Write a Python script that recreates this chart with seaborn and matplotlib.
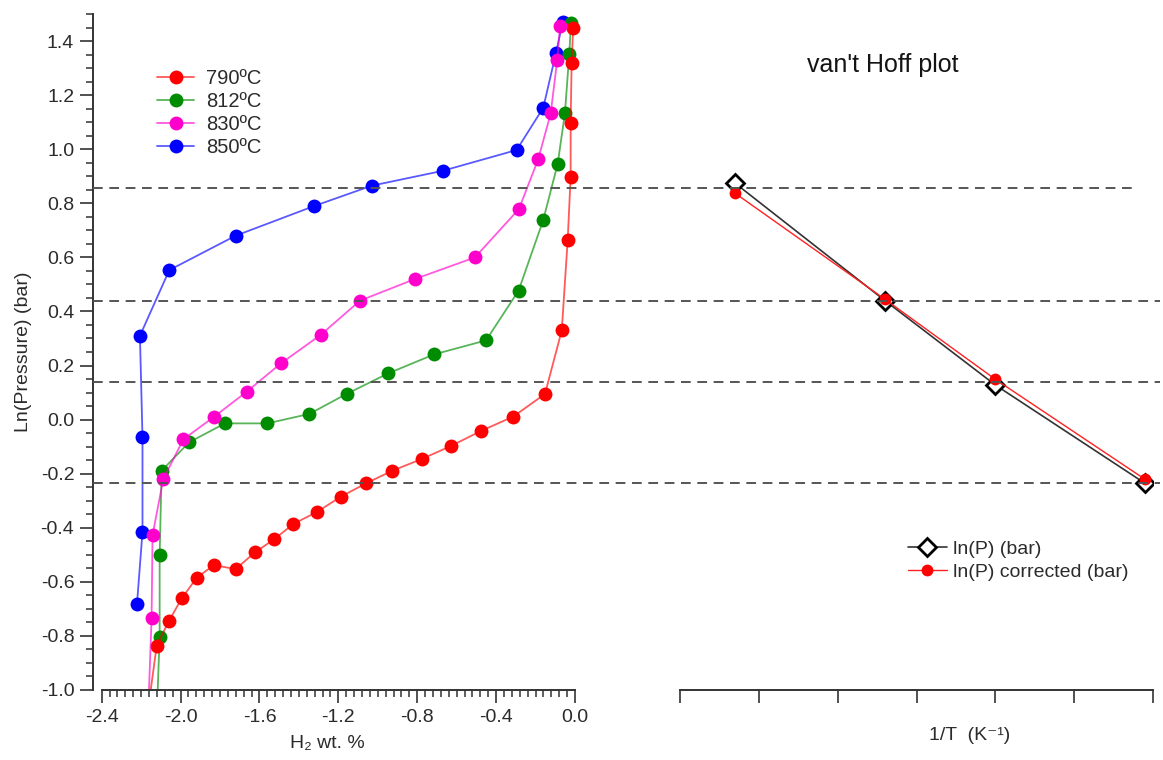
import numpy as np
import pandas as pd
import matplotlib
matplotlib.use("Agg")
import matplotlib.pyplot as plt
import matplotlib.transforms as mtransforms
from matplotlib.lines import Line2D
from matplotlib.ticker import FixedLocator, FuncFormatter, NullFormatter
import seaborn as sns

# ---- PCI isotherms: H2 content (wt. %) vs ln(P / bar) ----
temps = ["790ºC", "812ºC", "830ºC", "850ºC"]
marker_colors = ["#ff0000", "#008c00", "#ff00cc", "#0000ff"]

h2_790 = [-2.17, -2.121, -2.059, -1.994, -1.918, -1.831, -1.721, -1.623, -1.526, -1.428,
          -1.307, -1.187, -1.060, -0.926, -0.778, -0.630, -0.477, -0.313, -0.152, -0.067,
          -0.037, -0.022, -0.022, -0.017, -0.009]
lnp_790 = [-1.10, -0.836, -0.745, -0.661, -0.585, -0.538, -0.553, -0.491, -0.443, -0.386,
           -0.341, -0.285, -0.236, -0.189, -0.146, -0.098, -0.042, 0.011, 0.095, 0.330,
           0.664, 0.898, 1.096, 1.320, 1.449]

h2_812 = [-2.121, -2.106, -2.106, -2.096, -1.957, -1.775, -1.560, -1.347, -1.158, -0.947,
          -0.715, -0.451, -0.286, -0.161, -0.088, -0.051, -0.029, -0.020]
lnp_812 = [-1.10, -0.803, -0.501, -0.189, -0.084, -0.014, -0.014, 0.021, 0.095, 0.171,
           0.241, 0.293, 0.477, 0.738, 0.945, 1.133, 1.352, 1.468]

h2_830 = [-2.165, -2.147, -2.142, -2.088, -1.986, -1.829, -1.665, -1.491, -1.290, -1.090,
          -0.811, -0.507, -0.284, -0.186, -0.123, -0.090, -0.076]
lnp_830 = [-1.10, -0.735, -0.427, -0.221, -0.073, 0.011, 0.103, 0.208, 0.313, 0.440,
           0.520, 0.600, 0.779, 0.964, 1.133, 1.330, 1.455]

h2_850 = [-2.221, -2.193, -2.193, -2.206, -2.057, -1.721, -1.322, -1.031, -0.671, -0.296,
          -0.161, -0.096, -0.062]
lnp_850 = [-0.682, -0.415, -0.066, 0.310, 0.553, 0.680, 0.790, 0.865, 0.920, 0.997,
           1.153, 1.357, 1.471]

# ---- van't Hoff data (850, 830, 812, 790 ºC) ----
inv_T = [0.000887, 0.000906, 0.000920, 0.000939]
lnp_vh = [0.874, 0.440, 0.128, -0.236]
lnp_vh_corr = [0.837, 0.445, 0.149, -0.221]

# plateau pressures carried across both panels
plateau_levels = [0.855, 0.440, 0.138, -0.233]

h2_series = [h2_790, h2_812, h2_830, h2_850]
lnp_series = [lnp_790, lnp_812, lnp_830, lnp_850]

sns.set_theme(style="ticks")
plt.rcParams["font.family"] = ["Liberation Sans", "DejaVu Sans"]
plt.rcParams["axes.unicode_minus"] = False

TXT = "#2b2b2b"
AX = "#333333"
W, H = 1163, 760
fig = plt.figure(figsize=(W / 100, H / 100), dpi=100)
fig.patch.set_facecolor("white")

ax = fig.add_axes([93 / W, 1 - 690 / H, 487.9 / W, 681.4 / H])
ax2 = fig.add_axes([680 / W, 1 - 690 / H, 473 / W, 681.4 / H], sharey=ax)
for a in (ax, ax2):
    a.set_facecolor("white")

# isotherms (drawing order chosen so overlapping markers stack as shown)
for i in [3, 1, 0, 2]:
    df = pd.DataFrame({"h2": h2_series[i], "lnp": lnp_series[i]})
    rgba = matplotlib.colors.to_rgba(marker_colors[i], 0.65)
    sns.lineplot(data=df, x="h2", y="lnp", ax=ax, sort=False, estimator=None,
                 color=rgba, linewidth=1.3, marker="o", markersize=10,
                 markerfacecolor=marker_colors[i], markeredgecolor=marker_colors[i],
                 markeredgewidth=0, label=temps[i], legend=False)

ax.set_xlim(-2.444, 0.03)
ax.set_ylim(-1.0, 1.52)
for s in ("top", "right"):
    ax.spines[s].set_visible(False)
ax.spines["left"].set_bounds(-1.0, 1.5)
ax.spines["bottom"].set_bounds(-2.4, 0.0)
for s in ("left", "bottom"):
    ax.spines[s].set_linewidth(1.4)
    ax.spines[s].set_color(AX)

fmt = FuncFormatter(lambda v, p: f"{round(v, 1) + 0:.1f}")
ax.xaxis.set_major_locator(FixedLocator(np.round(np.arange(-2.4, 0.001, 0.4), 2)))
ax.xaxis.set_minor_locator(FixedLocator(np.round(np.arange(-2.4, 0.001, 0.04), 3)))
ax.yaxis.set_major_locator(FixedLocator(np.round(np.arange(-1.0, 1.401, 0.2), 2)))
ax.yaxis.set_minor_locator(FixedLocator(np.round(np.arange(-1.0, 1.501, 0.05), 3)))
ax.xaxis.set_major_formatter(fmt)
ax.yaxis.set_major_formatter(fmt)
ax.tick_params(which="major", length=9.5, width=1.2, color=AX, labelsize=14,
               labelcolor=TXT, direction="out", pad=4)
ax.tick_params(which="minor", length=5, width=1.1, color=AX, direction="out")

ax.set_xlabel("H₂ wt. %", fontsize=14, color=TXT)
ax.xaxis.set_label_coords(0.48, -0.066)
ax.set_ylabel("Ln(Pressure) (bar)", fontsize=14, color=TXT)
ax.yaxis.set_label_coords(-0.125, 0.497)

handles, labels = ax.get_legend_handles_labels()
lookup = dict(zip(labels, handles))
ax.legend([lookup[t] for t in temps], temps, loc="upper left",
          bbox_to_anchor=(157 / W, 1 - 69 / H), bbox_transform=fig.transFigure,
          frameon=False, fontsize=14.5, handlelength=1.85, handletextpad=0.6,
          labelspacing=0.2, borderpad=0, borderaxespad=0, labelcolor=TXT,
          numpoints=1)

# van't Hoff panel
vh = pd.DataFrame({"inv_T": inv_T, "lnp": lnp_vh, "lnp_corr": lnp_vh_corr})
sns.lineplot(data=vh, x="inv_T", y="lnp", ax=ax2, sort=False, estimator=None,
             color="#333333", linewidth=1.2, marker="D", markersize=9,
             markerfacecolor="white", markeredgecolor="black", markeredgewidth=2.0,
             label="ln(P) (bar)", legend=False)
sns.lineplot(data=vh, x="inv_T", y="lnp_corr", ax=ax2, sort=False, estimator=None,
             color="#ff2020", linewidth=1.0, marker="o", markersize=8.5,
             markerfacecolor="#ff0000", markeredgecolor="#ff0000", markeredgewidth=0,
             label="ln(P) corrected (bar)", legend=False)

ax2.set_xlim(0.00088, 0.00094)
ax2.xaxis.set_major_locator(FixedLocator(np.linspace(0.00088, 0.00094, 7)))
ax2.xaxis.set_major_formatter(NullFormatter())
ax2.xaxis.set_minor_locator(FixedLocator([]))
for s in ("top", "right", "left"):
    ax2.spines[s].set_visible(False)
ax2.spines["bottom"].set_linewidth(1.4)
ax2.spines["bottom"].set_color(AX)
ax2.tick_params(axis="x", which="major", length=9.5, width=1.2, color=AX, direction="out")
ax2.tick_params(axis="y", which="both", left=False, labelleft=False)
ax2.set_ylabel("")
ax2.set_xlabel("1/T  (K⁻¹)", fontsize=14, color=TXT)
ax2.xaxis.set_label_coords(0.613, -0.054)

ax2.text(0.429, 0.917, "van't Hoff plot", transform=ax2.transAxes, ha="center",
         va="center", fontsize=18, color="#141414")

ax2.legend(loc="upper left", bbox_to_anchor=(908 / W, 1 - 540 / H),
           bbox_transform=fig.transFigure, frameon=False, fontsize=14,
           handlelength=2.0, handletextpad=0.3, labelspacing=0.28, borderpad=0,
           borderaxespad=0, labelcolor=TXT, numpoints=1)

# dashed plateau guides across both panels
trans = mtransforms.blended_transform_factory(fig.transFigure, ax.transData)
for level, x_end in zip(plateau_levels, [1138, 1160, 1160, 1160]):
    fig.add_artist(Line2D([93 / W, x_end / W], [level, level], transform=trans,
                          linestyle=(0, (5.0, 3.4)), linewidth=1.4, color="#555555"))

fig.savefig("out.png", dpi=100, facecolor="white")
